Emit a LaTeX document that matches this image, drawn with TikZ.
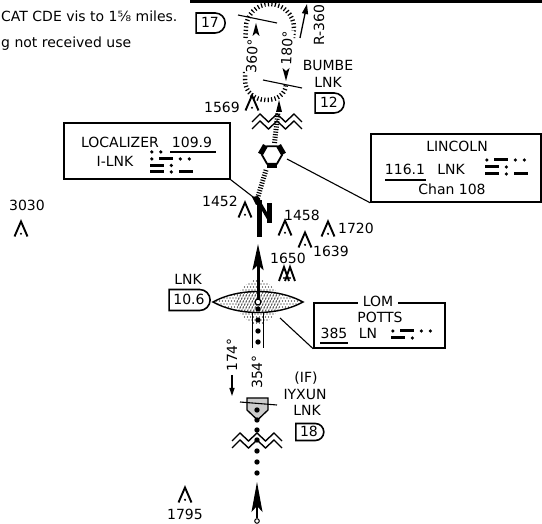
\documentclass[tikz,border=0pt]{standalone}
\usepackage{fontspec}
\setmainfont{DejaVu Sans}
\usetikzlibrary{shapes.misc,patterns,arrows.meta}
\newcommand\mrs[3]{\def\mrsx{#1}\def\mrsy{#2}\mrsparse#3\relax}
\def\mrsparse#1{\ifx#1\relax\else\if#1.\fill (\mrsx+1.8,\mrsy) circle (1.8);\pgfmathsetmacro\mrsx{\mrsx+9}\else\fill (\mrsx,\mrsy-1.5) rectangle (\mrsx+14,\mrsy+1.5);\pgfmathsetmacro\mrsx{\mrsx+19.5}\fi\expandafter\mrsparse\fi}
\newcommand\obst[2]{\draw[obsline] (#1-6.5,#2+7.5) -- (#1,#2-7.5) -- (#1+6.5,#2+7.5); \fill (#1,#2+4.8) circle (1.2);}
\newcommand\zig[2]{\draw[zigline] (#1-25,#2+4) -- (#1-17,#2-4) -- (#1-8.5,#2+4) -- (#1,#2-4) -- (#1+8.5,#2+4) -- (#1+17,#2-4) -- (#1+25,#2+4);}
\begin{document}
\begin{tikzpicture}[x=1pt,y=-1pt,
  lbl/.style={inner sep=0pt, font=\fontsize{14}{16}\selectfont, text height=10pt, text depth=0pt},
  dbox/.style={lbl, draw, line width=1.6pt, rounded rectangle, rounded rectangle left arc=none, minimum height=20pt, minimum width=29pt},
  frame/.style={draw, line width=1.6pt, inner sep=0pt},
  hatch/.style={line width=5pt, dash pattern=on 1.1pt off 1.5pt},
  hold/.style={line width=4.5pt, dash pattern=on 1.2pt off 2.3pt},
  obsline/.style={line width=1.9pt, line join=miter},
  zigline/.style={line width=1.4pt, line join=miter},
  lead/.style={line width=1.1pt}
]
\useasboundingbox (0,0) rectangle (542,524);
% top rule
\coordinate (tl) at (190,1.5); \coordinate (tr) at (542,1.5);
\draw[line width=3pt] (tl) -- (tr);
% notes
\node[lbl, anchor=base west] (note1) at (1,22) {CAT CDE vis to 1⅝ miles.};
\node[lbl, anchor=base west] (note2) at (1,48) {g not received use};
% holding pattern
\draw[hold] (245.5,38) -- (246,28) arc[start angle=180,end angle=0,radius=24pt] -- (293,38);
\draw[hold] (245,72) -- (245,80) .. controls (245,106) and (286,106) .. (286,84);
\node[lbl, fill=white, rotate=87, inner sep=1pt] (c360) at (252,56) {360°};
\node[lbl, fill=white, rotate=87, inner sep=1pt] (c180) at (287,48) {180°};
\fill (256,23) -- (259.5,36) -- (256,33) -- (252.5,36) -- cycle;
\fill (286,81) -- (289.5,68) -- (286,71) -- (282.5,68) -- cycle;
\coordinate (f17a) at (238,15); \coordinate (f17b) at (277,23);
\draw[lead] (f17a) -- (f17b);
\coordinate (f12a) at (263,80); \coordinate (f12b) at (302,88);
\draw[lead] (f12a) -- (f12b);
\node[dbox] (d17) at (210,23) {17};
% R-360
\coordinate (r0) at (300,38); \coordinate (r1) at (307,4);
\draw[line width=1.3pt, -{Triangle[length=10pt,width=6pt]}] (r0) -- (r1);
\node[lbl, rotate=90] (r360) at (319,25) {R-360};
\node[lbl] (bumbe) at (328,66) {BUMBE};
\node[lbl] (bumlnk) at (328,83) {LNK};
\node[dbox] (d12) at (329,103) {12};
% obstacles
\node[lbl] (o1569) at (222,108) {1569}; \obst{252}{103}
\node[lbl] (o1452) at (220,202) {1452}; \obst{245}{210}
\node[lbl] (o1458) at (302,216) {1458}; \obst{285}{228}
\node[lbl] (o1720) at (356,229) {1720}; \obst{328}{229}
\node[lbl] (o1639) at (331,252) {1639}; \obst{305}{240}
\node[lbl] (o1650) at (288,259) {1650};
\draw[obsline] (279,281) -- (284,267) -- (289,281); \draw[obsline] (285,281) -- (290,267) -- (295,281);
\fill (284,278) circle (1.1); \fill (290,278) circle (1.1);
\node[lbl] (o3030) at (27,206) {3030}; \obst{21}{229}
\node[lbl] (o1795) at (185,514) {1795}; \obst{185}{495}
% zigzags
\zig{277}{118} \zig{277}{125}
\zig{257}{437} \zig{257}{444}
% VOR
\coordinate (vor) at (272,155);
\draw[line width=1.8pt, line join=miter] (282,155) -- (277,146.3) -- (267,146.3) -- (262,155) -- (267,163.7) -- (277,163.7) -- cycle;
\fill (267,146.3) -- (262,155) -- (258.1,152.75) -- (263.1,144.05) -- cycle;
\fill (277,146.3) -- (282,155) -- (285.9,152.75) -- (280.9,144.05) -- cycle;
\fill (267,163.7) -- (277,163.7) -- (277,168.5) -- (267,168.5) -- cycle;
\coordinate (vup0) at (274.5,143); \coordinate (vup1) at (278,112);
\draw[hatch] (vup0) -- (vup1);
\fill (279,100) -- (282,112) -- (276,112) -- cycle;
\coordinate (loc) at (257,200);
\coordinate (vdn) at (266,170);
\draw[hatch] (vdn) -- (loc);
% localizer antenna
\fill (257,200) rectangle (262,237);
\fill (267,203) rectangle (272,223);
\draw[line width=3.5pt] (259.5,203) -- (269.5,220);
\fill (252,197) -- (258,196) -- (262,203) -- (256,205) -- cycle;
% localizer box
\node[frame, minimum width=166pt, minimum height=56pt] (locbox) at (147,151) {};
\node[lbl] (loct) at (120,143) {LOCALIZER};
\node[lbl] (locf) at (192,143) {109.9};
\draw[line width=1.2pt] (170,152) -- (216,152);
\node[lbl] (locid) at (115,162) {I-LNK};
\mrs{150}{152}{..}
\mrs{150}{159}{.-..}
\mrs{150}{165.5}{-.}
\mrs{150}{172}{-.-}
\draw[lead] (locbox.south east) -- (loc);
% LINCOLN box
\node[frame, minimum width=170pt, minimum height=68pt] (vorbox) at (456,168) {};
\node[lbl] (vname) at (457,147) {LINCOLN};
\node[lbl] (vfreq) at (405,170) {116.1};
\draw[line width=1.2pt] (385,180) -- (426,180);
\node[lbl] (vid) at (451,170) {LNK};
\node[lbl] (vchan) at (452,190) {Chan 108};
\mrs{485}{160}{.-..}
\mrs{485}{167}{-.}
\mrs{485}{174}{-.-}
\coordinate (vorr) at (287,159);
\draw[lead] (vorr) -- (vorbox.south west);
% LOM
\coordinate (lom) at (258,302);
\begin{scope}
  \clip (258,279) .. controls (270,282) and (278,290) .. (281,302) .. controls (278,314) and (270,322) .. (258,325) .. controls (246,322) and (238,314) .. (235,302) .. controls (238,290) and (246,282) .. cycle;
  \foreach \i in {0,...,16} \foreach \j in {0,...,16} {
    \pgfmathsetmacro\xo{234+\i*3+mod(\j,2)*1.5}
    \fill (\xo,278+\j*3) circle (0.6);
  }
\end{scope}
\draw[line width=1.4pt] (213,302) .. controls (238,288) and (278,288) .. (303,302) .. controls (278,316) and (238,316) .. (213,302) -- cycle;
\begin{scope}
  \clip (213,302) .. controls (238,288) and (278,288) .. (303,302) .. controls (278,316) and (238,316) .. (213,302) -- cycle;
  \foreach \i in {0,...,30} \foreach \j in {0,...,6} {
    \pgfmathsetmacro\xo{212+\i*3+mod(\j,2)*1.5}
    \fill (\xo,292+\j*3) circle (0.55);
  }
\end{scope}
\coordinate (fac) at (258,244);
\draw[line width=3pt, -{Stealth[length=26pt,width=11pt,inset=5pt]}] (lom) -- (fac);
\draw[line width=1.2pt, fill=white] (lom) circle (3);
\node[lbl] (lomlnk) at (188,280) {LNK};
\node[dbox, minimum width=41pt, minimum height=21pt] (d106) at (189,300) {10.6};
% LOM box
\node[frame, minimum width=131pt, minimum height=45pt] (lombox) at (379.5,325.5) {};
\node[lbl, fill=white, inner xsep=5pt] (lomt) at (378,302) {LOM};
\node[lbl] (potts) at (380,318) {POTTS};
\node[lbl] (lomf) at (334,334) {385};
\draw[line width=1.2pt] (320,343) -- (348,343);
\node[lbl] (lomid) at (368,334) {LN};
\mrs{391}{331}{.-..}
\mrs{391}{338}{-.}
\coordinate (lomr) at (280,318);
\draw[lead] (lomr) -- (lombox.south west);
% final track
\draw[line width=1.1pt] (252.5,312) -- (252.5,348);
\draw[line width=1.1pt] (263.5,312) -- (263.5,348);
\foreach \yy in {309,320,331,342} \fill (258,\yy) circle (2.7);
\node[lbl, rotate=90] (c354) at (257,372) {354°};
\node[lbl, rotate=90] (c174) at (232,355) {174°};
\coordinate (a174a) at (232,375); \coordinate (a174b) at (232,396);
\draw[line width=1.2pt, -{Triangle[length=8pt,width=5pt]}] (a174a) -- (a174b);
% IF
\draw[line width=1.3pt, fill=black!20] (247,398) -- (268,398) -- (268,410) -- (257.5,420) -- (247,410) -- cycle;
\coordinate (ifa) at (240,402); \coordinate (ifb) at (277,405);
\draw[lead] (ifa) -- (ifb);
\node[lbl] (ifl) at (306,378) {(IF)};
\node[lbl] (iyxun) at (305,395) {IYXUN};
\node[lbl] (iflnk) at (307,411) {LNK};
\node[dbox, minimum height=17pt, minimum width=28pt] (d18) at (309,432) {18};
\foreach \yy in {410,420,430,440,451,462,473} \fill (257,\yy) circle (2.7);
\coordinate (bst) at (257,518); \coordinate (btip) at (257,482);
\draw[line width=1.2pt, -{Stealth[length=30pt,width=11pt,inset=6pt]}] (bst) -- (btip);
\draw[line width=1pt] (257,521) circle (2.3);
\end{tikzpicture}
\end{document}
